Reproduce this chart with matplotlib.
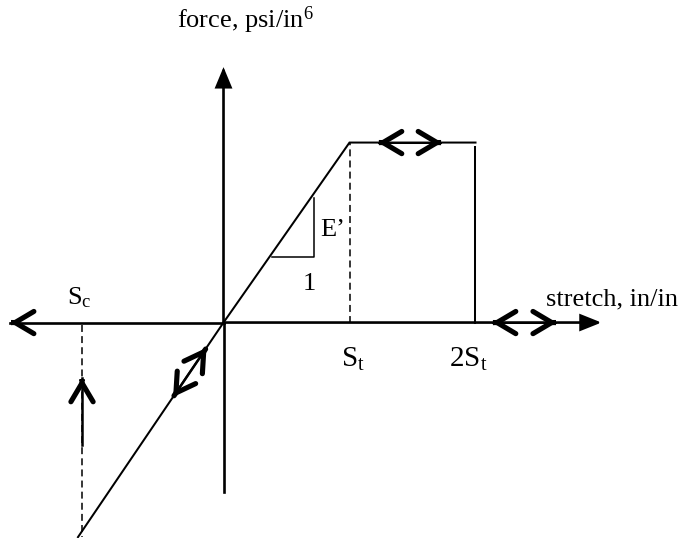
import matplotlib
matplotlib.use("Agg")
import matplotlib.pyplot as plt
from matplotlib.patches import FancyArrowPatch
import numpy as np

plt.rcParams["font.family"] = ["Liberation Serif", "DejaVu Serif"]
plt.rcParams["mathtext.default"] = "regular"
plt.rcParams["lines.scale_dashes"] = False

# Idealised force–stretch law (stretch in units of S_t, force normalised to yield)
S_t = 1.0
S_c = -1.123
curve_stretch = [-1.155, 0.0, 1.0, 2.0]
curve_force = [-1.192, 0.0, 1.0, 1.0]
drop_force = [0.975, 0.0]            # unloading at 2 S_t

# slope triangle (run 1, rise E')
tri_stretch = [0.385, 0.718, 0.718]
tri_force = [0.364, 0.364, 0.692]

# reversible paths
slope_arrow_stretch = [-0.135, -0.40]
slope_arrow_force = [-0.14, -0.414]
plateau_arrow_stretch = [1.226, 1.734]
axis_arrow_stretch = [2.131, 2.645]
comp_arrow_force = [-0.681, -0.308]   # rise along S_c

# axis extents
x_axis = [-1.694, 3.0]
y_axis = [-0.942, 1.419]

fig = plt.figure(figsize=(6.82, 5.38), dpi=100)
ax = fig.add_axes([0, 0, 1, 1])
ax.set_xlim(-1.774, 3.639)
ax.set_ylim(-1.197, 1.792)
ax.axis("off")

K = "black"
LW = 1.45       # curve
AXW = 1.9       # axes
HEAD_LW = 3.7   # open chevron heads


def arrow(p0, p1, style, lw):
    ax.add_patch(FancyArrowPatch(p0, p1, arrowstyle=style, mutation_scale=10,
                                 lw=lw, color=K, shrinkA=0, shrinkB=0,
                                 capstyle="round", joinstyle="miter"))


def chevron(tip, toward):
    tip = np.asarray(tip, float)
    d = np.asarray(toward, float) - tip
    d = d / np.hypot(*d)
    arrow(tip + 0.01 * d, tip, "->,head_length=1.35,head_width=0.8", HEAD_LW)


def double_arrow(a, b, lw=LW):
    ax.plot([a[0], b[0]], [a[1], b[1]], color=K, lw=lw, solid_capstyle="butt")
    chevron(a, b)
    chevron(b, a)


# axes with solid heads on the positive ends
ax.plot([x_axis[0], 0], [0, 0], color=K, lw=AXW)
arrow((0, 0), (x_axis[1], 0), "-|>,head_length=1.25,head_width=0.5", AXW)
chevron((x_axis[0], 0), (0, 0))
ax.plot([0, 0], [y_axis[0], 0], color=K, lw=AXW)
arrow((0, 0), (0, y_axis[1]), "-|>,head_length=1.2,head_width=0.5", AXW)

# force–stretch curve
ax.plot(curve_stretch, curve_force, color=K, lw=LW, solid_joinstyle="miter")
ax.plot([2 * S_t, 2 * S_t], drop_force, color=K, lw=LW)

# dashed guides
dash = (0, (5, 3))
ax.plot([S_t, S_t], [0, 1.0], color=K, lw=1.1, ls=dash)
ax.plot([S_c, S_c], [-0.015, curve_force[0]], color=K, lw=1.1, ls=dash)

# slope triangle
ax.plot(tri_stretch, tri_force, color=K, lw=1.1)

# reversible paths
double_arrow((slope_arrow_stretch[0], slope_arrow_force[0]),
             (slope_arrow_stretch[1], slope_arrow_force[1]), lw=1.8)
double_arrow((plateau_arrow_stretch[0], 1.0), (plateau_arrow_stretch[1], 1.0))
double_arrow((axis_arrow_stretch[0], 0), (axis_arrow_stretch[1], 0))
ax.plot([S_c, S_c], comp_arrow_force, color=K, lw=1.8)
chevron((S_c, comp_arrow_force[1]), (S_c, comp_arrow_force[0]))

# labels
fs = 19
ax.text(S_c - 0.02, 0.10, r"$S_c$", fontsize=fs, ha="center", va="baseline")
ax.text(S_t + 0.03, -0.247, r"$S_t$", fontsize=21, ha="center", va="baseline")
ax.text(2 * S_t - 0.06, -0.247, r"$2S_t$", fontsize=21, ha="center", va="baseline")
ax.text(0.87, 0.48, "E\u2019", fontsize=fs, ha="center", va="baseline")
ax.text(0.68, 0.18, "1", fontsize=fs, ha="center", va="baseline")
ax.text(2.56, 0.097, "stretch, in/in", fontsize=fs, ha="left", va="baseline")
ax.text(-0.369, 1.636, r"force, psi/in$^{6}$", fontsize=fs, ha="left", va="baseline")

fig.savefig("out.png", dpi=100)
